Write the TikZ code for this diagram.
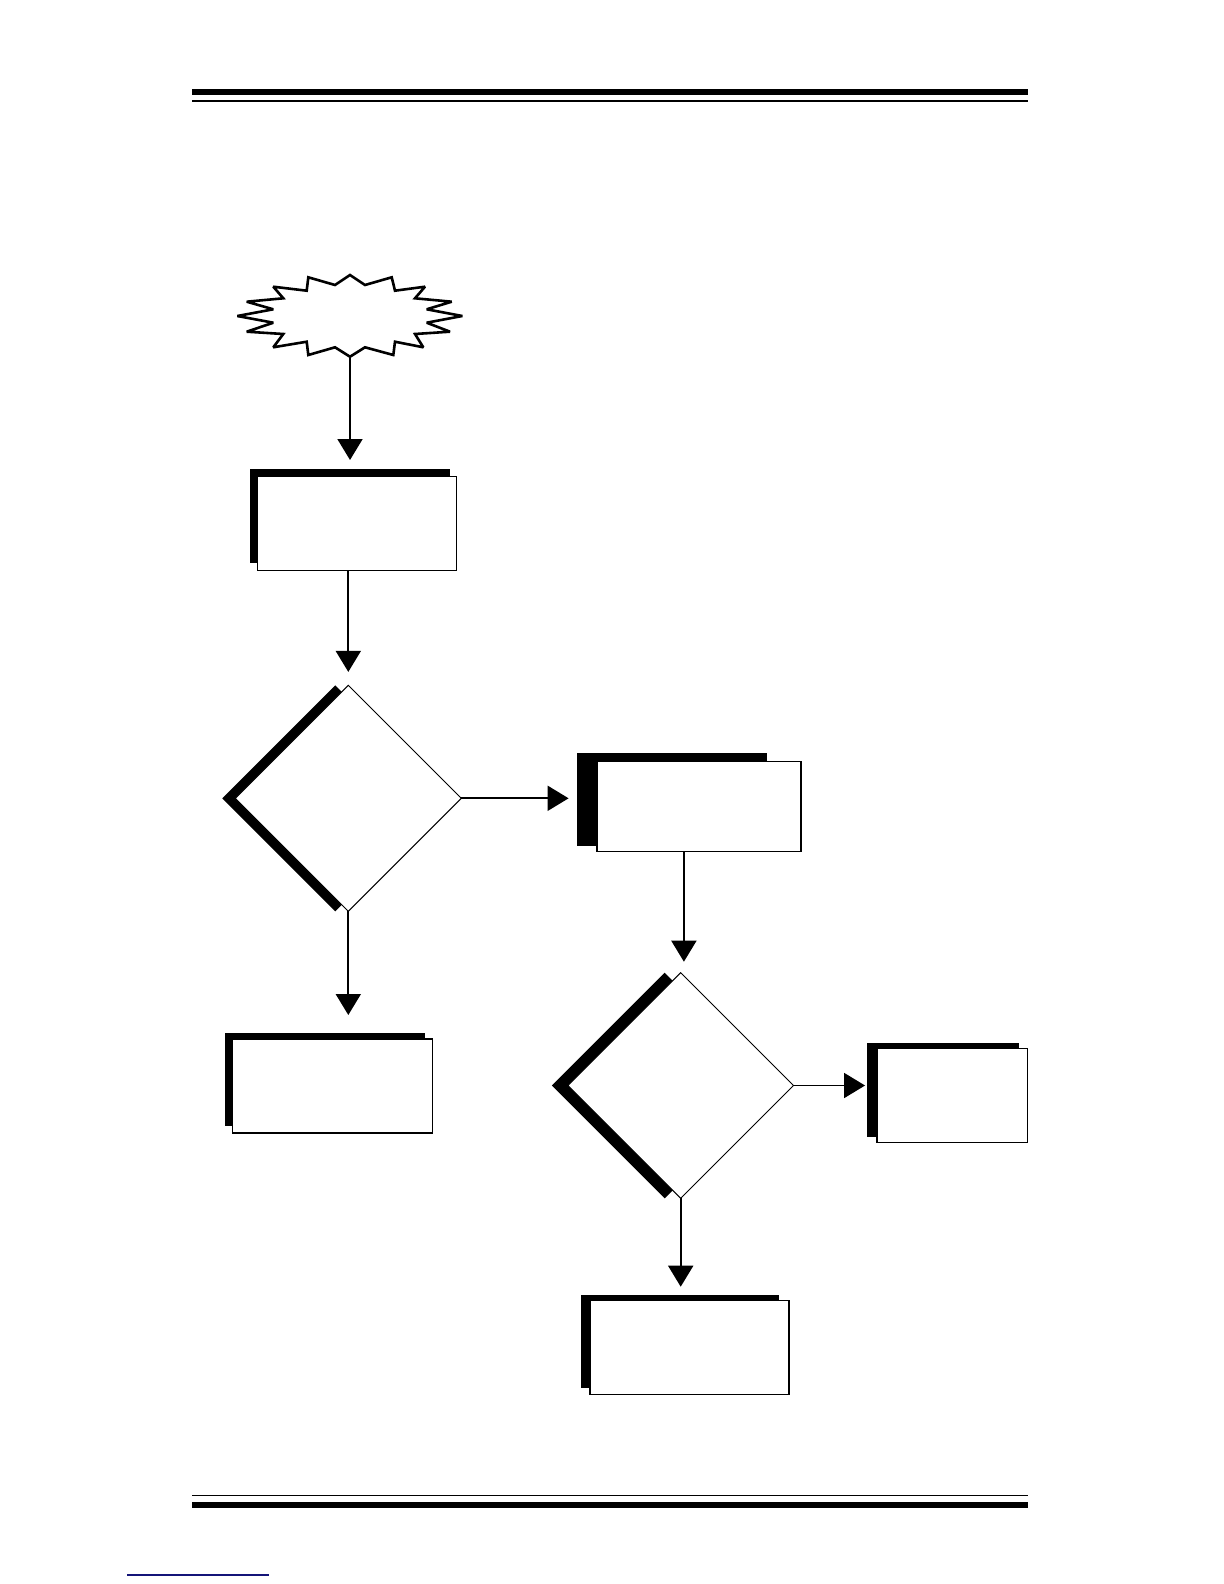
\documentclass[tikz,border=0pt]{standalone}
\usetikzlibrary{arrows.meta,shapes.geometric,shadows}
\begin{document}
\begin{tikzpicture}[x=0.5pt,y=-0.5pt,
  box/.style={draw=black,fill=white,line width=0.75pt,inner sep=0pt,outer sep=0pt},
  shade/.style={fill=black},
  dia/.style={diamond,draw=black,fill=white,line width=0.5pt,aspect=1,inner sep=0pt,outer sep=0pt},
  conn/.style={line width=0.9pt,-{Triangle[width=12.5pt,length=10.5pt]}},
  rule/.style={line width=#1}]
\useasboundingbox (0,0) rectangle (1224,1584);
% page rules
\draw[rule=3pt] (192,92) -- (1028,92);
\draw[rule=1pt] (192,101) -- (1028,101);
\draw[rule=0.75pt] (192,1495.7) -- (1028,1495.7);
\draw[rule=3pt] (192,1505) -- (1028,1505);
\draw[line width=0.6pt,color={rgb,255:red,20;green,20;blue,120}] (127,1575) -- (269,1575);
% start burst
\draw[line width=1.3pt,fill=white,line join=miter,miter limit=2.2]
 (350,275) -- (365,285) -- (391.7,277.3) -- (395,290.7) -- (425,286.7) -- (415,298.3) --
 (451.7,301.7) -- (426.7,309.3) -- (462.3,316) -- (426.7,322.7) -- (450,331.7) -- (415,334) --
 (423.3,347.3) -- (395,341.7) -- (393.3,355) -- (365,347.3) -- (350,356.7) -- (335,347.3) --
 (308.3,355) -- (306.7,341.7) -- (273.3,347.3) -- (283.3,334) -- (246.7,331.7) -- (273.3,322.7) --
 (237.3,316) -- (273.3,309.3) -- (246.7,301.7) -- (283.3,298.3) -- (273.3,286.7) -- (306.7,290.7) --
 (308.3,277.3) -- (335,285) -- cycle;
\coordinate (starb) at (350,357);
% box shadows
\fill[shade] (250,469) rectangle (450,562.5);
\fill[shade] (576.7,753.4) rectangle (766.5,846.3);
\fill[shade] (867.3,1043.3) rectangle (1019,1136.7);
\fill[shade] (225.2,1033) rectangle (425.2,1126);
\fill[shade] (580.7,1294.7) rectangle (778.6,1387.6);
% boxes
\node[box,minimum width=99.5pt,minimum height=47pt] (b1) at (357,523.6) {};
\node[box,minimum width=102pt,minimum height=45pt] (b2) at (698.8,806.5) {};
\node[box,minimum width=75.25pt,minimum height=47.1pt] (b3) at (952.3,1095.6) {};
\node[box,minimum width=100pt,minimum height=46.9pt] (b4) at (332.3,1086.1) {};
\node[box,minimum width=99.5pt,minimum height=47pt] (b5) at (689.3,1347.7) {};
% decisions
\node[dia,minimum width=113pt,minimum height=113pt,general shadow={fill=black,shadow xshift=-6.5pt}] (d1) at (348.3,798.3) {};
\node[dia,minimum width=112.8pt,minimum height=112.8pt,general shadow={fill=black,shadow xshift=-8pt}] (d2) at (680.7,1085.5) {};
% connectors
\draw[conn,shorten >=8.3pt] (starb) -- (starb |- b1.north);
\draw[conn,shorten >=6.7pt] (d1.north |- b1.south) -- (d1.north);
\draw[conn,shorten >=14.1pt] (d1.east) -- (b2.west |- d1.east);
\draw[conn,shorten >=12.1pt] (d1.south) -- (d1.south |- b4.north);
\draw[conn,shorten >=5.5pt] ([xshift=1.6pt]d2.north |- b2.south) -- ([xshift=1.6pt]d2.north);
\draw[conn,shorten >=6pt] (d2.east) -- (b3.west |- d2.east);
\draw[conn,shorten >=7pt] (d2.south) -- (d2.south |- b5.north);
\end{tikzpicture}
\end{document}
